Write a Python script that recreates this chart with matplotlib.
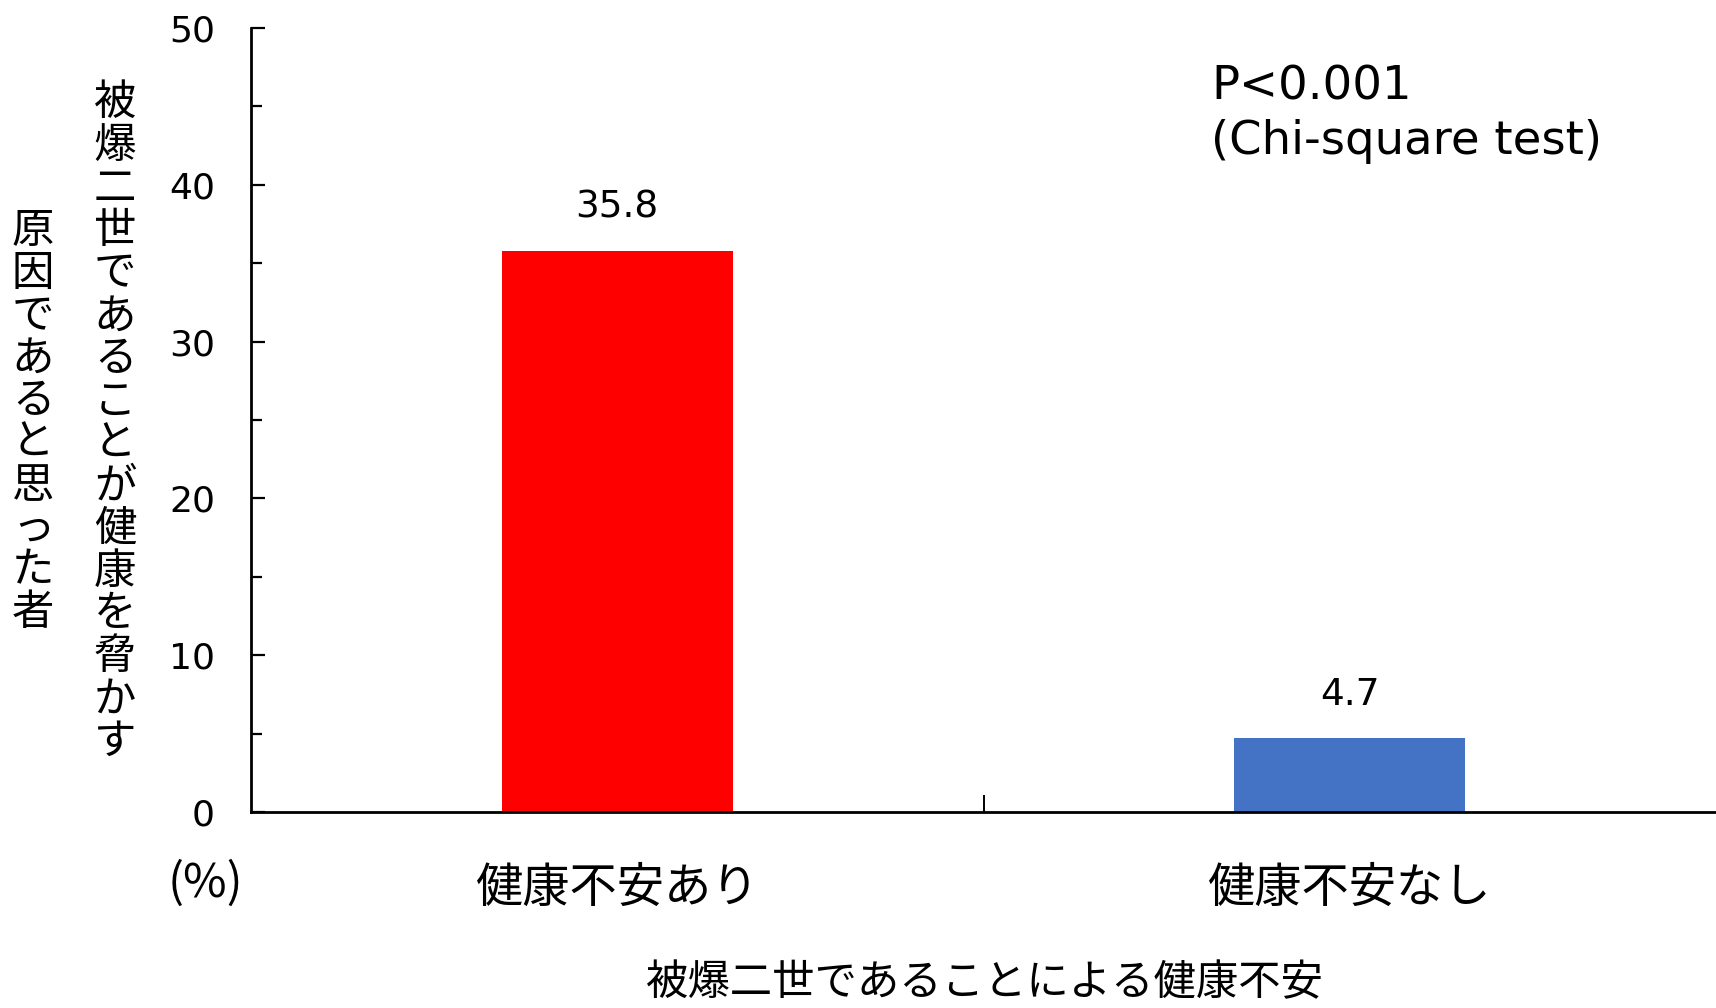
import matplotlib
matplotlib.use("Agg")
import matplotlib.pyplot as plt
from matplotlib.ticker import MultipleLocator, FixedLocator

# data
categories = ["健康不安あり", "健康不安なし"]
values = [35.8, 4.7]
bar_colors = ["#FF0000", "#4472C4"]
y_ticks = [0, 10, 20, 30, 40, 50]
x_label = "被爆二世であることによる健康不安"
y_label_1 = "被爆二世であることが健康を脅かす"
y_label_2 = "原因であると思った者"
stat_note = "P<0.001\n(Chi-square test)"

JP = ["Noto Sans CJK JP", "DejaVu Sans"]
NUM = ["DejaVu Sans"]

W, H = 1716, 1008
fig = plt.figure(figsize=(W / 100, H / 100), dpi=100)
ax = fig.add_axes([251 / W, 1 - 812 / H, 1 - 251 / W, (812 - 28) / H])

x = list(range(len(categories)))
ax.bar(x, values, width=0.315, color=bar_colors, zorder=2)

ax.set_xlim(-0.5, 1.5)
ax.set_ylim(0, 50)
ax.set_yticks(y_ticks)
ax.yaxis.set_minor_locator(MultipleLocator(5))
ax.set_xticks(x)
ax.set_xticklabels(categories, family=JP, fontsize=34)
ax.xaxis.set_minor_locator(FixedLocator([0.5]))

for s in ["top", "right"]:
    ax.spines[s].set_visible(False)
for s in ["left", "bottom"]:
    ax.spines[s].set_linewidth(2.0)

ax.tick_params(axis="y", which="major", direction="in", length=10, width=1.6,
               labelsize=26, pad=26)
ax.tick_params(axis="y", which="minor", direction="in", length=8, width=1.6)
ax.tick_params(axis="x", which="major", length=0, pad=38)
ax.tick_params(axis="x", which="minor", direction="in", length=12, width=1.4)
for lab in ax.get_yticklabels():
    lab.set_family(NUM)

# value labels
for xi, v in zip(x, values):
    ax.annotate(f"{v}", (xi, v), xytext=(0, 18), textcoords="offset points",
                ha="center", va="bottom", fontsize=27, family=NUM)

# stat note
fig.text(1211 / W, 1 - 64 / H, stat_note, ha="left", va="top",
         fontsize=33.5, family=NUM, linespacing=1.28)

# x label
fig.text(985 / W, 1 - 983 / H, x_label, ha="center", va="center",
         fontsize=30.5, family=JP)

# (%)
fig.text(205 / W, 1 - 884 / H, "(%)", ha="center", va="center",
         fontsize=34, family=JP)

# vertical y labels, one character per row
def vertical(label, xc, ytop, step):
    for i, ch in enumerate(label):
        fig.text(xc / W, 1 - (ytop + step * (i + 0.5)) / H, ch,
                 ha="center", va="center", fontsize=30.5, family=JP)

vertical(y_label_1, 115, 82, 42.6)
vertical(y_label_2, 33, 210, 42.4)

fig.savefig("out.png", dpi=100)
